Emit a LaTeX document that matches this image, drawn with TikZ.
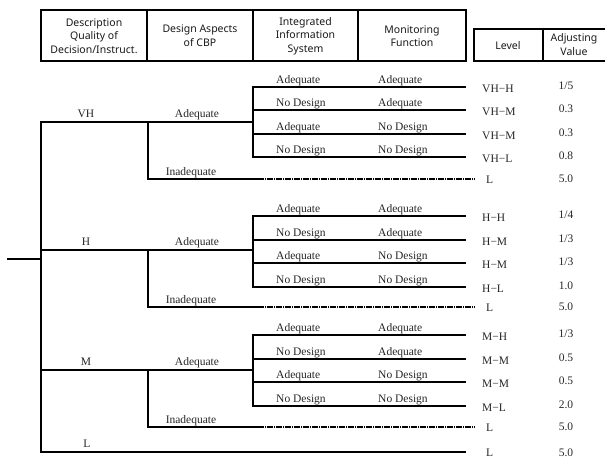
\documentclass[tikz,border=0pt]{standalone}
\usepackage{fontspec}
\setmainfont{Liberation Serif}
\newfontfamily\hdrfamily{Noto Sans}
\begin{document}
\begin{tikzpicture}[x=1pt,y=-1pt,
  hdr/.style={font=\hdrfamily\fontsize{10.5}{13.5}\selectfont, align=center, inner sep=0pt, text=black!90},
  box/.style={line width=2.6pt, line join=miter},
  branch/.style={line width=2.6pt, line cap=rect, line join=miter},
  dots/.style={line width=2.6pt, line cap=butt, dash pattern=on 1.3pt off 0.5pt},
  grp/.style={font=\fontsize{11.5}{13}\selectfont, inner sep=0pt, anchor=base, text=black!85},
  leaftxt/.style={font=\fontsize{11.5}{13}\selectfont, inner sep=0pt, anchor=base west, text=black!85},
  lvl/.style={font=\fontsize{11.5}{13}\selectfont, inner sep=0pt, anchor=west, text=black!85},
  val/.style={font=\fontsize{11.5}{13}\selectfont, inner sep=0pt, anchor=center, text=black!85}]
\useasboundingbox (0,0) rectangle (605,459);

% ---------- header ----------
\coordinate (t1) at (41,10);
\coordinate (t2) at (466,61);
\draw[box] (t1) rectangle (t2);
\coordinate (d1t) at (147,10); \coordinate (d1b) at (147,61);
\coordinate (d2t) at (253,10); \coordinate (d2b) at (253,61);
\coordinate (d3t) at (358,10); \coordinate (d3b) at (358,61);
\draw[box] (d1t) -- (d1b);
\draw[box] (d2t) -- (d2b);
\draw[box] (d3t) -- (d3b);
\coordinate (r1) at (606,29); \coordinate (r2) at (474,29);
\coordinate (r3) at (474,61); \coordinate (r4) at (606,61);
\draw[box] (r1) -- (r2) -- (r3) -- (r4);
\coordinate (d4t) at (543,29); \coordinate (d4b) at (543,61);
\draw[box] (d4t) -- (d4b);
\node[hdr] (h1) at (94,36) {Description\\Quality of\\Decision/Instruct.};
\node[hdr] (h2) at (200,35.5) {Design Aspects\\of CBP};
\node[hdr] (h3) at (305.5,36) {Integrated\\Information\\System};
\node[hdr] (h4) at (412,36) {Monitoring\\Function};
\node[hdr] (h5) at (508,46) {Level};
\node[hdr] (h6) at (574,44.5) {Adjusting\\Value};

% ---------- macros ----------
\newcommand\treegroup[8]{%
  \coordinate (#1A) at (41,#3);
  \coordinate (#1B) at (148,#3);
  \coordinate (#1C) at (253,#3);
  \coordinate (#1I) at (148,#8);
  \coordinate (#1Is) at (263,#8);
  \coordinate (#1Ie) at (475,#8);
  \node[grp] (#1lab) at (86,#3-4.5) {#2};
  \node[grp] (#1ad) at (197,#3-4.5) {Adequate};
  \node[grp] (#1in) at (191,#8-4) {Inadequate};
  \node[lvl] (#1il) at (486,#8+1) {L};
  \node[val] (#1iv) at (566,#8) {5.0};
  \draw[branch] (#1A) -- (#1C);
  \draw[branch] (#1B) -- (#1I) -- (#1Is);
  \draw[dots] (#1Is) -- (#1Ie);
  \coordinate (#1Vt) at (253,#4);
  \coordinate (#1Vb) at (253,#7);
  \draw[branch] (#1Vt) -- (#1Vb);
}
\newcommand\leaf[7]{%
  \coordinate (#1L#2) at (253,#3);
  \coordinate (#1E#2) at (465,#3);
  \node[leaftxt] (#1s#2) at (276,#3-4) {#4};
  \node[leaftxt] (#1m#2) at (378,#3-4) {#5};
  \node[lvl] (#1v#2) at (482,#3+1.5) {#6};
  \node[val] (#1w#2) at (566,#3-1) {#7};
  \draw[branch] (#1L#2) -- (#1E#2);
}

% ---------- trunk ----------
\coordinate (root) at (8,259);
\coordinate (rootJ) at (41,259);
\coordinate (LA) at (41,452);
\coordinate (LE) at (465,452);
\draw[branch] (root) -- (rootJ);
\coordinate (VHtop) at (41,122);
\draw[branch] (VHtop) -- (LA) -- (LE);
\node[grp] (Llab) at (87,452-4.5) {L};
\node[lvl] (Llv) at (486,453) {L};
\node[val] (Lval) at (566,452.5) {5.0};

% ---------- VH ----------
\treegroup{VH}{VH}{122}{87}{110}{134}{157}{179}
\leaf{VH}{1}{87}{Adequate}{Adequate}{VH−H}{1/5}
\leaf{VH}{2}{110}{No Design}{Adequate}{VH−M}{0.3}
\leaf{VH}{3}{134}{Adequate}{No Design}{VH−M}{0.3}
\leaf{VH}{4}{157}{No Design}{No Design}{VH−L}{0.8}

% ---------- H ----------
\treegroup{H}{H}{250}{216}{240}{263}{287}{307}
\leaf{H}{1}{216}{Adequate}{Adequate}{H−H}{1/4}
\leaf{H}{2}{240}{No Design}{Adequate}{H−M}{1/3}
\leaf{H}{3}{263}{Adequate}{No Design}{H−M}{1/3}
\leaf{H}{4}{287}{No Design}{No Design}{H−L}{1.0}

% ---------- M ----------
\treegroup{M}{M}{370}{335}{359}{382}{406}{427}
\leaf{M}{1}{335}{Adequate}{Adequate}{M−H}{1/3}
\leaf{M}{2}{359}{No Design}{Adequate}{M−M}{0.5}
\leaf{M}{3}{382}{Adequate}{No Design}{M−M}{0.5}
\leaf{M}{4}{406}{No Design}{No Design}{M−L}{2.0}
\end{tikzpicture}
\end{document}
